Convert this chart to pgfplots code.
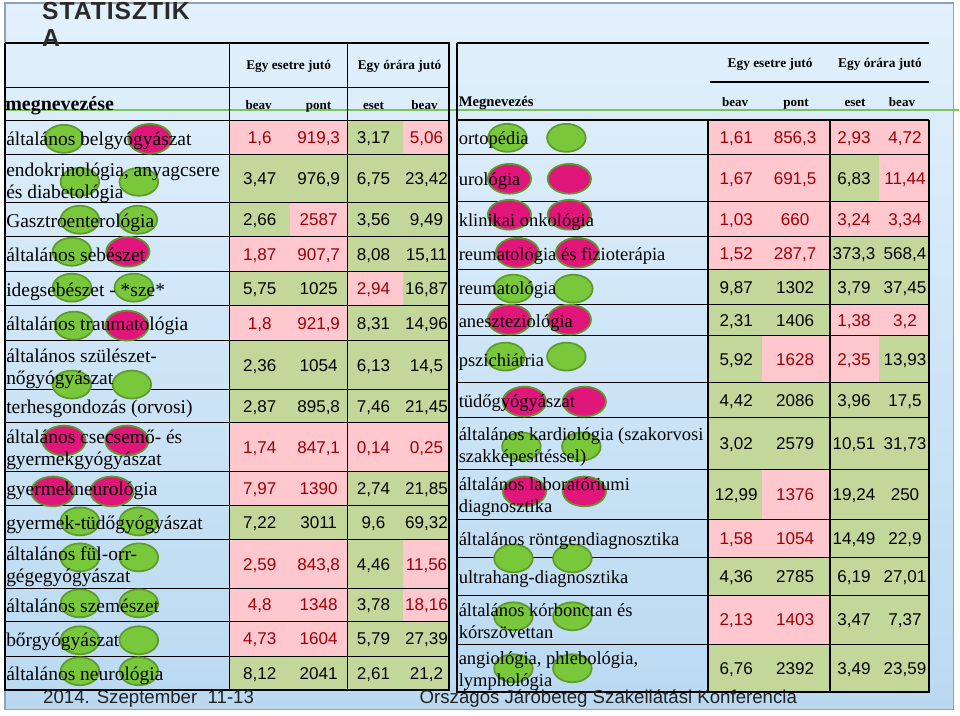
\documentclass[border=0pt]{standalone}
\usepackage{fontspec}
\setmainfont{Liberation Serif}
\newfontfamily\arial{Liberation Sans}
\newfontfamily\titlefont[LetterSpace=4]{Liberation Sans Bold}
\usepackage{pgfplots}
\usepackage{pgfplotstable}
\pgfplotsset{compat=1.18}

\definecolor{cellpink}{HTML}{FFC7CE}
\definecolor{cellgreen}{HTML}{C4D79B}
\definecolor{rd}{HTML}{9C0006}
\definecolor{ovgreen}{HTML}{79C83C}
\definecolor{ovpink}{HTML}{E0167B}
\definecolor{ovedge}{HTML}{5E9A2C}
\definecolor{bgtop}{HTML}{E2F1FC}
\definecolor{bgbot}{HTML}{BAD9F1}
\definecolor{framegray}{HTML}{8DA2B8}
\definecolor{deco}{HTML}{7CC35A}
\definecolor{titlegray}{HTML}{2A2A2A}
\definecolor{footgray}{HTML}{222222}

% left table: row centre (px), four values; k = 1 for a pink (red-text) cell
\pgfplotstableread{
y     a      ka  b      kb  c      kc  d      kd
138   1,6    1   919,3  1   3,17   0   5,06   1
179   3,47   0   976,9  0   6,75   0   23,42  0
220   2,66   0   2587   1   3,56   0   9,49   0
254.5 1,87   1   907,7  1   8,08   0   15,11  0
289   5,75   0   1025   0   2,94   1   16,87  0
323.5 1,8    1   921,9  1   8,31   0   14,96  0
365.5 2,36   0   1054   0   6,13   0   14,5   0
406.5 2,87   0   895,8  0   7,46   0   21,45  0
447.5 1,74   1   847,1  1   0,14   1   0,25   1
489   7,97   1   1390   1   2,74   0   21,85  0
523   7,22   0   3011   0   9,6    0   69,32  0
564.5 2,59   1   843,8  1   4,46   0   11,56  1
605.5 4,8    1   1348   1   3,78   0   18,16  1
639.5 4,73   1   1604   1   5,79   0   27,39  0
674   8,12   0   2041   0   2,61   0   21,2   0
}\lefttab

% right table
\pgfplotstableread{
y     a      ka  b      kb  c      kc  d      kd
137.5 1,61   1   856,3  1   2,93   1   4,72   1
178.5 1,67   1   691,5  1   6,83   0   11,44  1
219.5 1,03   1   660    1   3,24   1   3,34   1
253.5 1,52   1   287,7  1   373,3  0   568,4  0
287.5 9,87   0   1302   0   3,79   0   37,45  0
320.5 2,31   0   1406   0   1,38   1   3,2    1
359.5 5,92   0   1628   1   2,35   1   13,93  0
400.5 4,42   0   2086   0   3,96   0   17,5   0
444   3,02   0   2579   0   10,51  0   31,73  0
495   12,99  0   1376   1   19,24  0   250    0
539   1,58   1   1054   1   14,49  0   22,9   0
577   4,36   0   2785   0   6,19   0   27,01  0
620.5 2,13   1   1403   1   3,47   0   7,37   0
669   6,76   0   2392   0   3,49   0   23,59  0
}\righttab

% row names, one line of text per entry
\pgfplotstableread[col sep=semicolon]{
y;name
138;általános belgyógyászat
169;endokrinológia, anyagcsere
191;és diabetológia
220;Gasztroenterológia
254.5;általános sebészet
289;idegsebészet - *sze*
323.5;általános traumatológia
355;általános szülészet-
377;nőgyógyászat
406.5;terhesgondozás (orvosi)
437;általános csecsemő- és
459;gyermekgyógyászat
489;gyermekneurológia
523;gyermek-tüdőgyógyászat
554;általános fül-orr-
576;gégegyógyászat
605.5;általános szemészet
639.5;bőrgyógyászat
674;általános neurológia
}\leftnames

\pgfplotstableread[col sep=semicolon]{
y;name
137.5;ortopédia
178.5;urológia
219.5;klinikai onkológia
253.5;reumatológia és fizioterápia
287.5;reumatológia
320.5;aneszteziológia
359.5;pszichiátria
400.5;tüdőgyógyászat
434;általános kardiológia (szakorvosi
456;szakképesítéssel)
484;általános laboratóriumi
506;diagnosztika
539;általános röntgendiagnosztika
577;ultrahang-diagnosztika
610;általános kórbonctan és
632;kórszövettan
658;angiológia, phlebológia,
680;lymphológia
}\rightnames

\pgfplotsset{
  textlab/.style={only marks, mark=*, mark size=0pt,
    mark options={draw=none, fill=none},
    point meta=explicit symbolic,
    nodes near coords={\pgfplotspointmeta}},
  numlab/.style={textlab,
    every node near coord/.append style={anchor=center, inner sep=0pt,
      text height=9.2pt, text depth=0pt,
      font=\arial\fontsize{12.8}{14}\selectfont}},
  namelab/.style={textlab,
    every node near coord/.append style={anchor=west, inner sep=0pt,
      text height=14pt, text depth=2.8pt, text=black, font=\fontsize{#1}{16}\selectfont}},
  pinkcell/.style={fill=cellpink, draw=none},
  greencell/.style={fill=cellgreen, draw=none},
}
% #1 table, #2 value column, #3 flag column, #4 x (px), #5 flag, #6 text colour
\newcommand\valcol[6]{%
  \addplot[numlab, restrict expr to domain={\thisrow{#3}}{#5:#5},
    every node near coord/.append style={text=#6}]
    table[x expr=#4, y=y, meta=#2] {#1};}

\tikzset{
  hd/.style={inner sep=0pt, font=\bfseries\fontsize{10}{12}\selectfont},
  sub/.style={anchor=base, inner sep=0pt, font=\bfseries\fontsize{9.8}{12}\selectfont},
}

\begin{document}
\begin{tikzpicture}
\begin{axis}[
    width=720pt, height=537pt, scale only axis,
    xmin=0, xmax=960, ymin=0, ymax=716,
    y dir=reverse,
    hide axis,
    clip=false,
]
% page and slide
\addplot[fill=white, draw=none] coordinates {(0,0) (960,0) (960,716) (0,716)} --cycle;
\addplot[draw=framegray, line width=0.8pt, top color=bgtop, bottom color=bgbot]
  coordinates {(5,3) (955,3) (955,710) (5,710)} --cycle;

% cell fills
\addplot[greencell] coordinates {(230,121) (449,121) (449,691) (230,691)} --cycle;
\addplot[greencell] coordinates {(709,120) (930,120) (930,693) (709,693)} --cycle;
% left pink cells
\addplot[pinkcell] coordinates {(230,121) (348,121) (348,155) (230,155)} --cycle;
\addplot[pinkcell] coordinates {(403,121) (449,121) (449,155) (403,155)} --cycle;
\addplot[pinkcell] coordinates {(290,203) (348,203) (348,237) (290,237)} --cycle;
\addplot[pinkcell] coordinates {(230,237) (348,237) (348,272) (230,272)} --cycle;
\addplot[pinkcell] coordinates {(348,272) (403,272) (403,306) (348,306)} --cycle;
\addplot[pinkcell] coordinates {(230,306) (348,306) (348,341) (230,341)} --cycle;
\addplot[pinkcell] coordinates {(230,423) (449,423) (449,472) (230,472)} --cycle;
\addplot[pinkcell] coordinates {(230,472) (348,472) (348,506) (230,506)} --cycle;
\addplot[pinkcell] coordinates {(230,540) (348,540) (348,657) (230,657)} --cycle;
\addplot[pinkcell] coordinates {(403,540) (449,540) (449,622) (403,622)} --cycle;
% right pink cells
\addplot[pinkcell] coordinates {(709,120) (831,120) (831,270) (709,270)} --cycle;
\addplot[pinkcell] coordinates {(831,120) (930,120) (930,155) (831,155)} --cycle;
\addplot[pinkcell] coordinates {(880,155) (930,155) (930,202) (880,202)} --cycle;
\addplot[pinkcell] coordinates {(831,202) (930,202) (930,237) (831,237)} --cycle;
\addplot[pinkcell] coordinates {(831,305) (930,305) (930,336) (831,336)} --cycle;
\addplot[pinkcell] coordinates {(763,336) (880,336) (880,383) (763,383)} --cycle;
\addplot[pinkcell] coordinates {(763,470) (831,470) (831,520) (763,520)} --cycle;
\addplot[pinkcell] coordinates {(709,520) (831,520) (831,558) (709,558)} --cycle;
\addplot[pinkcell] coordinates {(709,596) (831,596) (831,645) (709,645)} --cycle;

% decorative green rule of the slide
\addplot[deco, line width=1.6pt] coordinates {(5,110) (960,110)};

% table rules
\addplot[black, line width=0.9pt, unbounded coords=jump] coordinates {
  (5,88) (449,88) (0,nan) (5,121) (449,121) (0,nan) (5,155) (449,155) (0,nan)
  (5,203) (449,203) (0,nan) (5,237) (449,237) (0,nan) (5,272) (449,272) (0,nan)
  (5,306) (449,306) (0,nan) (5,341) (449,341) (0,nan) (5,390) (449,390) (0,nan)
  (5,423) (449,423) (0,nan) (5,472) (449,472) (0,nan) (5,506) (449,506) (0,nan)
  (5,540) (449,540) (0,nan) (5,589) (449,589) (0,nan) (5,622) (449,622) (0,nan)
  (5,657) (449,657) (0,nan)
  (230,43) (230,691) (0,nan) (348,43) (348,691) (0,nan)
  (711,82) (930,82) (0,nan)
  (458,155) (930,155) (0,nan) (458,202) (930,202) (0,nan) (458,237) (930,237) (0,nan)
  (458,270) (930,270) (0,nan) (458,305) (930,305) (0,nan) (458,336) (930,336) (0,nan)
  (458,383) (930,383) (0,nan) (458,418) (930,418) (0,nan) (458,470) (930,470) (0,nan)
  (458,520) (930,520) (0,nan) (458,558) (930,558) (0,nan) (458,596) (930,596) (0,nan)
  (458,645) (930,645) (0,nan)
};
\addplot[black, line width=1.5pt, unbounded coords=jump] coordinates {
  (5,43) (449,43) (449,691) (5,691) (5,43) (0,nan)
  (458,43) (930,43) (0,nan) (458,43) (458,693) (930,693) (930,120) (0,nan)
  (458,120) (930,120) (0,nan)
  (709,120) (709,693) (0,nan) (831,120) (831,693)
};

% ovals
\addplot[only marks, mark=*, mark size=10.5pt,
  mark options={xscale=1.38, fill=ovgreen, draw=ovedge, line width=1.3pt}]
  coordinates {
  (64,139) (80,182) (139,182) (80,220) (138,220) (72,252) (72,288) (134,288)
  (74,326) (72,385) (132,385) (80,522) (139,522) (80,558) (139,558)
  (80,604) (139,604) (80,641) (139,641) (80,672) (139,672)
  (508,138) (567,138) (514,289) (574,289) (506,357) (567,357)
  (522,447) (582,447) (514,559) (573,559) (514,617) (573,617)
  (514,669) (573,669)
};
\addplot[only marks, mark=*, mark size=11.2pt,
  mark options={xscale=1.45, fill=ovpink, draw=ovedge, line width=1.3pt}]
  coordinates {
  (150,139) (128,252) (127,326) (64,441) (127,441) (53,492) (112,492)
  (510,179) (570,179) (510,215) (570,215) (518,253) (578,253)
  (510,320) (570,320) (525,402) (585,402) (525,492) (585,492)
};

% row names (drawn after the ovals, so they sit on top)
\addplot[namelab=14.6] table[x expr=6, y=y, meta=name] {\leftnames};
\addplot[namelab=13.9] table[x expr=459, y=y, meta=name] {\rightnames};

% values
\valcol{\lefttab}{a}{ka}{260}{1}{rd}  \valcol{\lefttab}{a}{ka}{260}{0}{black}
\valcol{\lefttab}{b}{kb}{319}{1}{rd}  \valcol{\lefttab}{b}{kb}{319}{0}{black}
\valcol{\lefttab}{c}{kc}{374}{1}{rd}  \valcol{\lefttab}{c}{kc}{374}{0}{black}
\valcol{\lefttab}{d}{kd}{427}{1}{rd}  \valcol{\lefttab}{d}{kd}{427}{0}{black}
\valcol{\righttab}{a}{ka}{737}{1}{rd} \valcol{\righttab}{a}{ka}{737}{0}{black}
\valcol{\righttab}{b}{kb}{796}{1}{rd} \valcol{\righttab}{b}{kb}{796}{0}{black}
\valcol{\righttab}{c}{kc}{855}{1}{rd} \valcol{\righttab}{c}{kc}{855}{0}{black}
\valcol{\righttab}{d}{kd}{906}{1}{rd} \valcol{\righttab}{d}{kd}{906}{0}{black}

% title and headers
\node[anchor=base west, inner sep=0pt, text=titlegray,
  font=\titlefont\fontsize{18.5}{20}\selectfont] at (42,20) {STATISZTIK};
\node[anchor=base west, inner sep=0pt, text=titlegray,
  font=\titlefont\fontsize{18.5}{20}\selectfont] at (42,47) {A};
\node[hd] at (289,66) {Egy esetre jutó};
\node[hd] at (400,66) {Egy órára jutó};
\node[hd] at (771,64) {Egy esetre jutó};
\node[hd] at (881,64) {Egy órára jutó};
\node[anchor=base west, inner sep=0pt, font=\bfseries\fontsize{15}{17}\selectfont] at (5,111) {megnevezése};
\node[anchor=base west, inner sep=0pt, font=\bfseries\fontsize{11}{13}\selectfont] at (459,107) {Megnevezés};
\node[sub] at (259,110) {beav};
\node[sub] at (319,110) {pont};
\node[sub] at (374,110) {eset};
\node[sub] at (425,110) {beav};
\node[sub] at (736,107) {beav};
\node[sub] at (797,107) {pont};
\node[sub] at (856,107) {eset};
\node[sub] at (903,107) {beav};

% footer
\node[anchor=west, inner sep=0pt, text=footgray, font=\arial\fontsize{14}{16}\selectfont]
  at (43,699) {2014. Szeptember\ \ 11-13};
\node[inner sep=0pt, text=footgray, font=\arial\fontsize{14}{16}\selectfont]
  at (609,699) {Országos Járóbeteg Szakellátási Konferencia};
\end{axis}
\end{tikzpicture}
\end{document}
